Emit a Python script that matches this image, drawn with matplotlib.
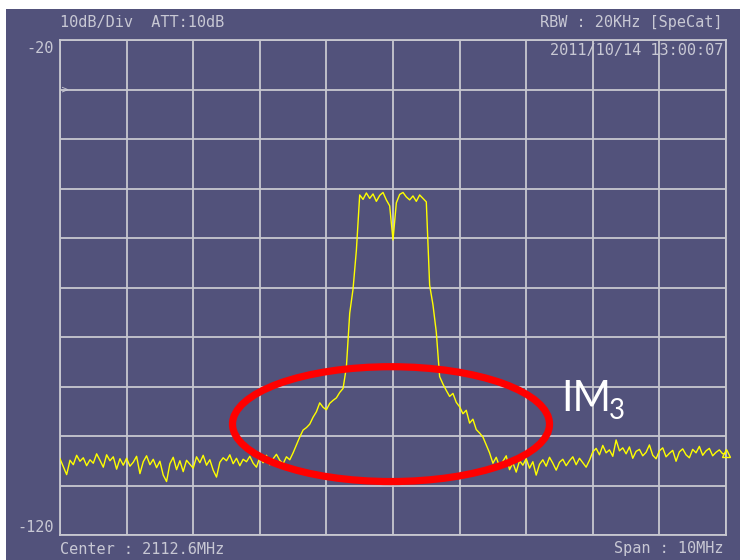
import numpy as np
import matplotlib
matplotlib.use("Agg")
import matplotlib.pyplot as plt
from matplotlib.patches import Ellipse, Rectangle

# Analyzer settings
center_mhz = 2112.6
span_mhz = 10.0
ref_db = -20
bottom_db = -120

# Trace, one value per 0.05 MHz from -5 to +5 MHz
trace_db = [
    -104.6, -106.2, -107.8, -104.9, -105.8, -103.9, -105.1, -104.4, -106.0, -104.8,
    -105.5, -103.6, -104.9, -106.3, -103.8, -105.0, -104.2, -106.7, -104.6, -105.9,
    -104.5, -106.1, -105.3, -104.1, -107.6, -105.2, -104.0, -105.8, -104.7, -106.4,
    -105.1, -107.9, -109.2, -105.6, -104.3, -106.8, -105.0, -107.2, -104.9, -105.7,
    -106.5, -104.2, -105.4, -103.9, -105.9, -104.8, -106.9, -108.3, -105.3, -104.4,
    -105.0, -103.8, -105.6, -104.5, -106.0, -104.7, -105.2, -104.1, -105.5, -106.3,
    -104.3, -105.4, -103.9, -105.8, -104.6, -103.7, -104.9, -105.6, -104.2, -104.8,
    -103.4, -101.8, -100.2, -98.8, -98.3, -97.6, -96.2, -95.1, -93.3, -94.2,
    -94.7, -93.4, -92.8, -92.3, -91.2, -90.4, -86.1, -75.2, -70.3, -62.5,
    -51.3, -52.2, -50.9, -52.0, -51.1, -52.6, -51.4, -50.8, -52.3, -53.5,
    -60.4, -52.9, -51.2, -50.8, -51.7, -52.3, -51.5, -52.6, -51.3, -52.0,
    -52.7, -69.5, -73.5, -79.0, -88.0, -89.5, -90.8, -92.0, -91.4, -93.2,
    -94.1, -95.5, -94.8, -97.4, -96.6, -98.7, -99.4, -100.2, -101.8, -103.4,
    -105.5, -104.3, -106.2, -105.1, -104.0, -106.8, -105.4, -107.3, -105.0, -105.9,
    -104.6, -106.5, -105.2, -107.9, -105.7, -104.8, -106.1, -104.3, -105.5, -106.9,
    -105.3, -104.7, -106.0, -105.0, -104.2, -105.8, -104.5, -105.4, -106.3, -104.9,
    -103.2, -102.5, -103.8, -101.9, -103.4, -102.8, -104.1, -100.8, -103.0, -102.4,
    -103.6, -102.2, -104.5, -103.1, -102.7, -104.0, -103.3, -101.8, -103.9, -104.6,
    -103.0, -102.4, -104.2, -103.5, -102.9, -105.1, -103.2, -102.6, -103.8, -104.4,
    -102.7, -103.4, -102.1, -103.9, -103.0, -102.5, -104.0, -103.3, -102.8, -103.6,
    -103.5,
]

# IM3 ellipse (MHz offset from centre, dB)
ell_center = (-0.03, -97.6)
ell_width = 4.76
ell_height = 23.2

bg = '#52527b'
grid_c = '#c8c8d0'
text_c = '#c8c8d4'

freq = center_mhz + np.linspace(-span_mhz / 2, span_mhz / 2, len(trace_db))

fig = plt.figure(figsize=(7.4, 5.6), dpi=100)
fig.patches.append(Rectangle((6 / 740, 0), 1, 1 - 9 / 560, transform=fig.transFigure,
                             facecolor=bg, edgecolor='none', zorder=-5))

ax = fig.add_axes([60 / 740, 25 / 560, 666 / 740, 495 / 560])
ax.set_zorder(2)
ax.set_facecolor(bg)
ax.set_xlim(center_mhz - span_mhz / 2, center_mhz + span_mhz / 2)
ax.set_ylim(bottom_db, ref_db)
ax.set_xticks(center_mhz + np.arange(-5, 6, 1))
ax.set_yticks(np.arange(bottom_db, ref_db + 1, 10))
ax.grid(True, color=grid_c, lw=1.3)
ax.tick_params(length=0, labelbottom=False, labelleft=False)
for s in ax.spines.values():
    s.set_color(grid_c)
    s.set_linewidth(1.3)

ax.plot(freq, trace_db, color='#ffff00', lw=1.0, zorder=3)
ax.plot(freq[-1], trace_db[-1], marker='^', ms=6, mfc='none', mec='#ffff00',
        mew=1, clip_on=False, zorder=4)

ax.add_patch(Ellipse((center_mhz + ell_center[0], ell_center[1]), ell_width, ell_height,
                     fill=False, edgecolor='#ff0000', lw=5.2, zorder=5))

# reference level marker
ax.text(0.002, -30, '>', transform=ax.get_yaxis_transform(), color=text_c,
        fontsize=7, va='center', ha='left')

mono = 'DejaVu Sans Mono'
fig.text(60 / 740, 1 - 22 / 560, '10dB/Div  ATT:10dB', family=mono, fontsize=11,
         color=text_c, va='center', ha='left')
fig.text(723 / 740, 1 - 22 / 560, 'RBW : 20KHz [SpeCat]', family=mono, fontsize=11,
         color=text_c, va='center', ha='right')
fig.text(723 / 740, 1 - 51 / 560, '2011/10/14 13:00:07', family=mono, fontsize=11,
         color=text_c, va='center', ha='right', zorder=5)
fig.text(60 / 740, 1 - 549 / 560, 'Center : 2112.6MHz', family=mono, fontsize=11,
         color=text_c, va='center', ha='left')
fig.text(723 / 740, 1 - 549 / 560, 'Span : 10MHz', family=mono, fontsize=11,
         color=text_c, va='center', ha='right')
fig.text(54 / 740, 1 - 41 / 560, '-20', family=mono, fontsize=11,
         color=text_c, va='top', ha='right')
fig.text(54 / 740, 1 - 535 / 560, '-120', family=mono, fontsize=11,
         color=text_c, va='bottom', ha='right')

fig.text(561 / 740, 1 - 399 / 560, 'IM', family='Lato', fontsize=30,
         color='white', va='center', ha='left', zorder=5)
fig.text(609 / 740, 1 - 411 / 560, '3', family='Lato', fontsize=20,
         color='white', va='center', ha='left', zorder=5)

fig.savefig('out.png', dpi=100, facecolor='white')
